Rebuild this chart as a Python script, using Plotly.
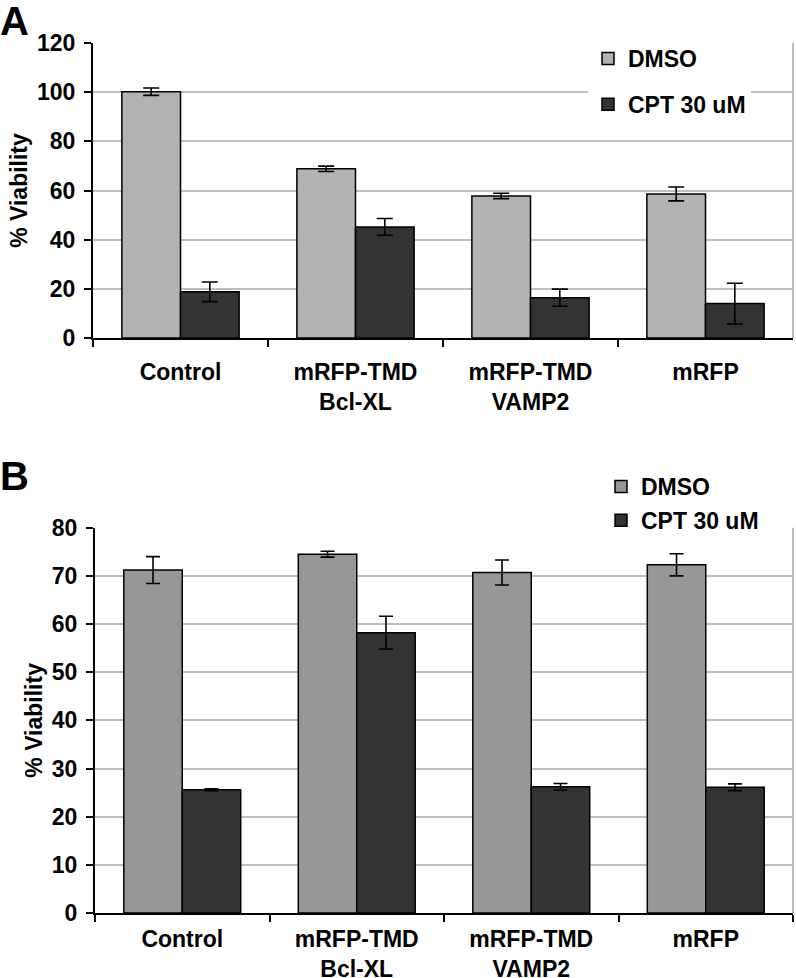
import plotly.graph_objects as go

categories = ["Control", "mRFP-TMD<br>Bcl-XL", "mRFP-TMD<br>VAMP2", "mRFP"]

# Panel A
a_dmso = [100.2, 68.8, 57.8, 58.6]
a_dmso_err = [1.5, 1.1, 1.1, 2.8]
a_cpt = [18.8, 45.2, 16.4, 14.0]
a_cpt_err = [4.0, 3.4, 3.5, 8.3]

# Panel B
b_dmso = [71.2, 74.5, 70.7, 72.3]
b_dmso_err = [2.8, 0.6, 2.6, 2.3]
b_cpt = [25.6, 58.2, 26.2, 26.1]
b_cpt_err = [0.2, 3.4, 0.7, 0.7]

series_names = ["DMSO", "CPT 30 uM"]

FONT = "Liberation Sans, Arial, sans-serif"
FS = 23
C_A_DMSO = "#b3b3b3"
C_B_DMSO = "#979797"
C_CPT = "#333333"
GRID = "#bfbfbf"

fig = go.Figure()

def add_bar(x, y, err, name, color, xa, ya, legend, group, width):
    fig.add_trace(go.Bar(
        x=x, y=y, name=name, xaxis=xa, yaxis=ya, legend=legend,
        legendgroup=group,
        marker=dict(color=color, line=dict(color="black", width=1.5)),
        error_y=dict(type="data", array=err, color="black", thickness=1.6, width=width),
    ))

add_bar(categories, a_dmso, a_dmso_err, series_names[0], C_A_DMSO, "x", "y", "legend", "a1", 8)
add_bar(categories, a_cpt, a_cpt_err, series_names[1], C_CPT, "x", "y", "legend", "a2", 8)
add_bar(categories, b_dmso, b_dmso_err, series_names[0], C_B_DMSO, "x2", "y2", "legend2", "b1", 7)
add_bar(categories, b_cpt, b_cpt_err, series_names[1], C_CPT, "x2", "y2", "legend2", "b2", 7)

bold = lambda s: dict(family=FONT, size=s, color="black", weight="bold")

xcommon = dict(
    type="category", range=[-0.5, 3.5], showgrid=False, automargin=False,
    showline=True, linecolor="black", linewidth=2,
    ticks="outside", tickson="boundaries", ticklen=7, tickwidth=2, tickcolor="black",
    tickfont=bold(FS), fixedrange=True,
)
ycommon = dict(
    showline=True, linecolor="black", linewidth=2, automargin=False,
    ticks="outside", ticklen=7, tickwidth=2, tickcolor="black",
    showgrid=True, gridcolor=GRID, gridwidth=2,
    zeroline=False, tickfont=bold(FS), ticklabelstandoff=4,
    title=dict(text="% Viability", font=bold(FS), standoff=3),
)

fig.update_layout(
    width=796, height=978,
    margin=dict(l=0, r=0, t=0, b=0, autoexpand=False),
    paper_bgcolor="white", plot_bgcolor="white",
    font=bold(FS),
    barmode="group", bargap=0.33, bargroupgap=0,
    xaxis=dict(domain=[93/796, 793/796], anchor="y", ticklabelstandoff=12, **xcommon),
    yaxis=dict(domain=[1-338/978, 1-43/978], anchor="x", range=[0, 120], dtick=20, **ycommon),
    xaxis2=dict(domain=[95/796, 793/796], anchor="y2", ticklabelstandoff=4, **xcommon),
    yaxis2=dict(domain=[1-913/978, 1-527.7/978], anchor="x2", range=[0, 80], dtick=10, **ycommon),
    legend=dict(x=588/796, y=1-37/978, xanchor="left", yanchor="top",
                bgcolor="white", borderwidth=0, tracegroupgap=13, font=bold(FS)),
    legend2=dict(x=601/796, y=1-465/978, xanchor="left", yanchor="top",
                 bgcolor="white", borderwidth=0, tracegroupgap=1, font=bold(FS)),
    showlegend=True,
)

# right plot border lines
for xr, yr in (("x domain", "y domain"), ("x2 domain", "y2 domain")):
    fig.add_shape(type="line", xref=xr, yref=yr, x0=1, x1=1, y0=0, y1=1,
                  line=dict(color=GRID, width=2), layer="below")

# panel letters
fig.add_annotation(text="A", xref="paper", yref="paper", x=0, y=1.0, xanchor="left", yanchor="top",
                   showarrow=False, font=bold(40), xshift=-2, yshift=3)
fig.add_annotation(text="B", xref="paper", yref="paper", x=0, y=1-452/978, xanchor="left", yanchor="top",
                   showarrow=False, font=bold(40), xshift=-2)

fig.write_html("out.html", config={"displayModeBar": False},
               post_script="document.body.style.margin='0';")
